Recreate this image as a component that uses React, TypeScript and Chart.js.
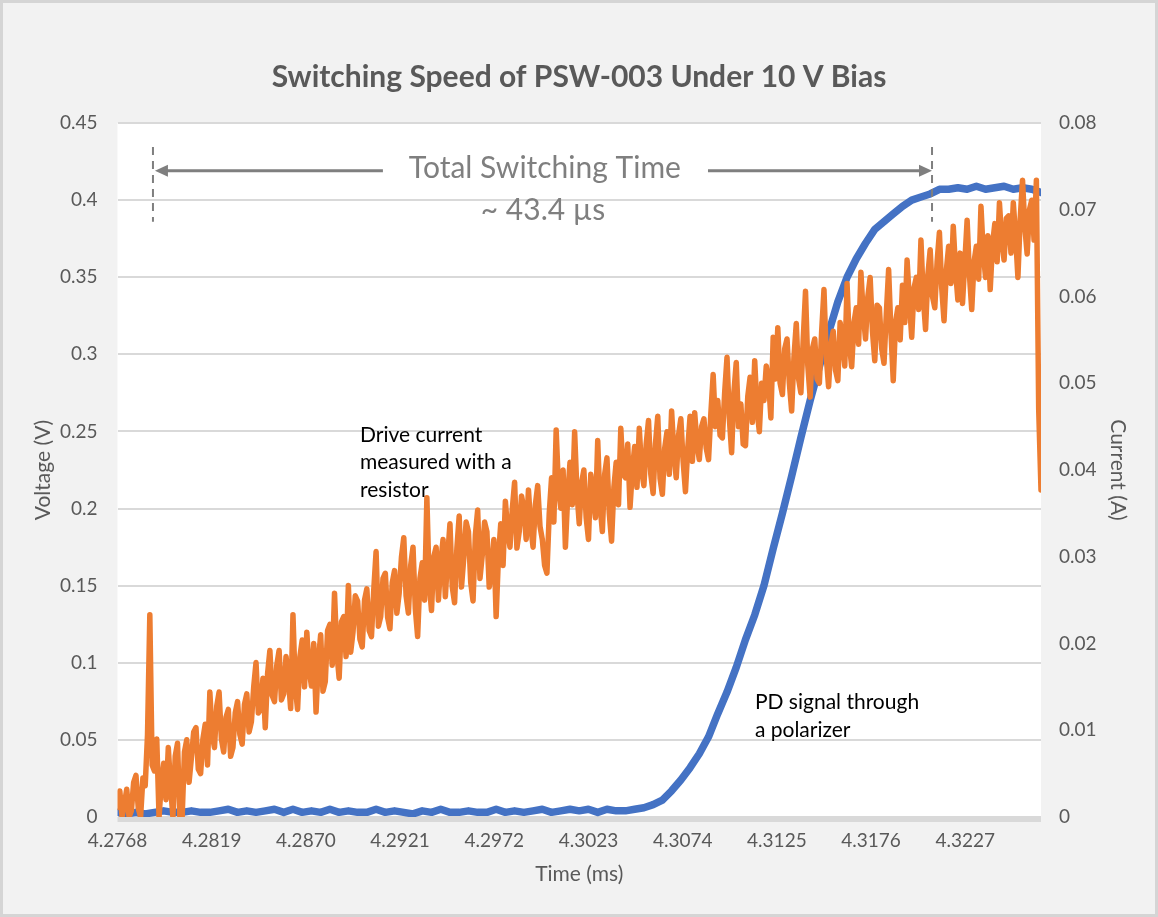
import React, { useEffect, useRef } from "react";
import { Chart, registerables } from "chart.js";

Chart.register(...registerables);

// ---- Data ----
const chartTitle = "Switching Speed of PSW-003 Under 10 V Bias";
const startTimeMs = 4.2768;
const endTimeMs = 4.3268;
const currentStepMs = 0.000125; // sample spacing of the drive-current trace
const voltageStepMs = 0.0005; // sample spacing of the PD-signal trace
const xTickLabels = [4.2768, 4.2819, 4.287, 4.2921, 4.2972, 4.3023, 4.3074, 4.3125, 4.3176, 4.3227];

// PD signal through a polarizer (V, left axis)
const pdSignalV = [
  0.003, 0.002, 0.003, 0.002, 0.003, 0.004, 0.003, 0.003, 0.004, 0.003,
  0.003, 0.004, 0.005, 0.003, 0.004, 0.003, 0.004, 0.005, 0.003, 0.005,
  0.003, 0.004, 0.003, 0.005, 0.003, 0.004, 0.003, 0.003, 0.005, 0.003,
  0.004, 0.003, 0.002, 0.004, 0.003, 0.005, 0.003, 0.003, 0.004, 0.003,
  0.003, 0.005, 0.003, 0.004, 0.003, 0.004, 0.005, 0.003, 0.004, 0.005,
  0.004, 0.005, 0.003, 0.005, 0.004,
  0.004, 0.005, 0.006, 0.008, 0.011, 0.017, 0.024, 0.032, 0.041, 0.052,
  0.067, 0.081, 0.097, 0.115, 0.131, 0.150, 0.174, 0.197, 0.221, 0.246,
  0.270, 0.292, 0.314, 0.334, 0.350, 0.362, 0.372, 0.381, 0.386, 0.391,
  0.396, 0.400, 0.402, 0.404, 0.407, 0.407, 0.408, 0.407, 0.409, 0.407,
  0.408, 0.409, 0.407, 0.408, 0.407, 0.405,
];

// Drive current measured with a resistor (A, right axis)
const driveCurrentA = [
  0.0011, 0.0030, 0.0000, 0.0015, 0.0032, 0.0000, 0.0007, 0.0040, 0.0048, 0.0010, 0.0000, 0.0045, 0.0036, 0.0095, 0.0233, 0.0060, 0.0053, 0.0090, 0.0000, 0.0040,
  0.0062, 0.0020, 0.0080, 0.0035, 0.0000, 0.0070, 0.0085, 0.0000, 0.0000, 0.0075, 0.0089, 0.0040, 0.0068, 0.0098, 0.0103, 0.0055, 0.0050, 0.0090, 0.0107, 0.0060,
  0.0144, 0.0095, 0.0080, 0.0128, 0.0144, 0.0090, 0.0075, 0.0115, 0.0124, 0.0070, 0.0080, 0.0120, 0.0133, 0.0095, 0.0084, 0.0130, 0.0142, 0.0098, 0.0110, 0.0150,
  0.0178, 0.0120, 0.0124, 0.0160, 0.0103, 0.0165, 0.0192, 0.0140, 0.0133, 0.0175, 0.0192, 0.0135, 0.0142, 0.0185, 0.0160, 0.0125, 0.0233, 0.0150, 0.0124, 0.0185,
  0.0204, 0.0150, 0.0213, 0.0170, 0.0151, 0.0200, 0.0121, 0.0180, 0.0210, 0.0145, 0.0156, 0.0215, 0.0222, 0.0175, 0.0258, 0.0190, 0.0160, 0.0225, 0.0231, 0.0185,
  0.0267, 0.0190, 0.0213, 0.0255, 0.0249, 0.0205, 0.0196, 0.0250, 0.0263, 0.0215, 0.0208, 0.0262, 0.0306, 0.0220, 0.0231, 0.0275, 0.0281, 0.0230, 0.0217, 0.0270,
  0.0284, 0.0235, 0.0258, 0.0300, 0.0322, 0.0255, 0.0235, 0.0290, 0.0311, 0.0240, 0.0208, 0.0275, 0.0293, 0.0250, 0.0368, 0.0270, 0.0238, 0.0300, 0.0311, 0.0250,
  0.0293, 0.0320, 0.0254, 0.0300, 0.0338, 0.0265, 0.0247, 0.0310, 0.0347, 0.0265, 0.0299, 0.0340, 0.0329, 0.0270, 0.0249, 0.0325, 0.0354, 0.0275, 0.0302, 0.0340,
  0.0329, 0.0265, 0.0284, 0.0320, 0.0231, 0.0300, 0.0338, 0.0290, 0.0364, 0.0330, 0.0311, 0.0355, 0.0386, 0.0310, 0.0329, 0.0370, 0.0356, 0.0320, 0.0377, 0.0335,
  0.0311, 0.0360, 0.0382, 0.0335, 0.0320, 0.0290, 0.0281, 0.0350, 0.0391, 0.0340, 0.0446, 0.0380, 0.0356, 0.0400, 0.0311, 0.0370, 0.0409, 0.0360, 0.0444, 0.0375,
  0.0338, 0.0385, 0.0400, 0.0345, 0.0320, 0.0395, 0.0373, 0.0345, 0.0434, 0.0360, 0.0329, 0.0395, 0.0414, 0.0350, 0.0318, 0.0380, 0.0409, 0.0360, 0.0448, 0.0395,
  0.0391, 0.0430, 0.0357, 0.0400, 0.0427, 0.0380, 0.0448, 0.0400, 0.0382, 0.0430, 0.0457, 0.0395, 0.0373, 0.0430, 0.0462, 0.0390, 0.0372, 0.0425, 0.0444, 0.0395,
  0.0468, 0.0420, 0.0391, 0.0440, 0.0459, 0.0410, 0.0375, 0.0425, 0.0462, 0.0410, 0.0466, 0.0430, 0.0412, 0.0450, 0.0459, 0.0425, 0.0412, 0.0465, 0.0510, 0.0450,
  0.0480, 0.0440, 0.0437, 0.0490, 0.0530, 0.0460, 0.0420, 0.0490, 0.0524, 0.0450, 0.0476, 0.0430, 0.0428, 0.0485, 0.0507, 0.0455, 0.0526, 0.0470, 0.0444, 0.0500,
  0.0480, 0.0520, 0.0503, 0.0460, 0.0553, 0.0505, 0.0564, 0.0500, 0.0487, 0.0540, 0.0551, 0.0500, 0.0468, 0.0530, 0.0569, 0.0505, 0.0489, 0.0550, 0.0606, 0.0520,
  0.0484, 0.0540, 0.0551, 0.0505, 0.0500, 0.0560, 0.0608, 0.0530, 0.0496, 0.0545, 0.0560, 0.0515, 0.0503, 0.0570, 0.0551, 0.0520, 0.0615, 0.0545, 0.0519, 0.0570,
  0.0587, 0.0545, 0.0628, 0.0580, 0.0551, 0.0600, 0.0622, 0.0560, 0.0526, 0.0590, 0.0587, 0.0540, 0.0523, 0.0580, 0.0631, 0.0560, 0.0503, 0.0570, 0.0587, 0.0550,
  0.0613, 0.0570, 0.0642, 0.0595, 0.0553, 0.0610, 0.0622, 0.0585, 0.0665, 0.0600, 0.0562, 0.0625, 0.0654, 0.0600, 0.0587, 0.0640, 0.0674, 0.0610, 0.0572, 0.0630,
  0.0658, 0.0615, 0.0681, 0.0630, 0.0596, 0.0650, 0.0592, 0.0640, 0.0688, 0.0625, 0.0585, 0.0640, 0.0658, 0.0620, 0.0704, 0.0650, 0.0622, 0.0670, 0.0608, 0.0660,
  0.0684, 0.0640, 0.0708, 0.0665, 0.0642, 0.0690, 0.0693, 0.0650, 0.0708, 0.0670, 0.0622, 0.0690, 0.0734, 0.0680, 0.0649, 0.0700, 0.0711, 0.0665, 0.0734, 0.0470,
  0.0377,
];

// Annotation content
const spanLabel = "Total Switching Time";
const spanValueLabel = "~ 43.4 µs";
const spanStartMs = 4.27872;
const spanEndMs = 4.3209;
const currentNote = ["Drive current", "measured with a", "resistor"];
const pdNote = ["PD signal through", "a polarizer"];

const GREY_TEXT = "#595959";
const FONT = "Lato, 'Open Sans', sans-serif";

const framePlugin = {
  id: "frame",
  beforeDraw(chart: any) {
    const { ctx, width, height, chartArea: a } = chart;
    ctx.save();
    ctx.fillStyle = "#f2f2f2";
    ctx.fillRect(0, 0, width, height);
    ctx.strokeStyle = "#d5d5d5";
    ctx.lineWidth = 3;
    ctx.strokeRect(1.5, 1.5, width - 3, height - 3);
    ctx.fillStyle = "#ffffff";
    ctx.fillRect(a.left, a.top, a.right - a.left, a.bottom - a.top);
    ctx.restore();
  },
  afterDatasetsDraw(chart: any) {
    const { ctx, chartArea: a } = chart;
    ctx.save();
    ctx.fillStyle = "#d9d9d9";
    ctx.fillRect(a.left, a.bottom, a.right - a.left, 5);
    ctx.restore();
  },
};

const notesPlugin = {
  id: "notes",
  afterDraw(chart: any) {
    const { ctx } = chart;
    const xs = chart.scales.x;
    const ys = chart.scales.y;
    const X = (t: number) => xs.getPixelForValue(t);
    const Y = (v: number) => ys.getPixelForValue(v);
    ctx.save();
    const grey = "#7f7f7f";
    // dashed markers
    ctx.strokeStyle = grey;
    ctx.lineWidth = 2;
    ctx.setLineDash([8, 6]);
    for (const t of [spanStartMs, spanEndMs]) {
      ctx.beginPath();
      ctx.moveTo(X(t), Y(0.4345));
      ctx.lineTo(X(t), Y(0.3859));
      ctx.stroke();
    }
    ctx.setLineDash([]);
    // arrows
    const ay = Y(0.419);
    const lTip = X(spanStartMs) + 2;
    const rTip = X(spanEndMs);
    ctx.lineWidth = 3;
    ctx.beginPath();
    ctx.moveTo(lTip + 10, ay);
    ctx.lineTo(X(4.29117), ay);
    ctx.moveTo(X(4.30877), ay);
    ctx.lineTo(rTip - 10, ay);
    ctx.stroke();
    ctx.fillStyle = grey;
    ctx.beginPath();
    ctx.moveTo(lTip, ay);
    ctx.lineTo(lTip + 13, ay - 6);
    ctx.lineTo(lTip + 13, ay + 6);
    ctx.closePath();
    ctx.fill();
    ctx.beginPath();
    ctx.moveTo(rTip, ay);
    ctx.lineTo(rTip - 13, ay - 6);
    ctx.lineTo(rTip - 13, ay + 6);
    ctx.closePath();
    ctx.fill();
    // span labels
    ctx.font = `30px ${FONT}`;
    ctx.textAlign = "center";
    ctx.textBaseline = "alphabetic";
    ctx.fillText(spanLabel, X(4.29994), Y(0.4144));
    ctx.fillText(spanValueLabel, X(4.29984), Y(0.3872));
    // notes
    ctx.fillStyle = "#000000";
    ctx.font = `21px ${FONT}`;
    ctx.textAlign = "left";
    const y0 = Y(0.2432);
    currentNote.forEach((s, i) => ctx.fillText(s, X(4.28993), y0 + i * 27.5));
    const y1 = Y(0.07);
    pdNote.forEach((s, i) => ctx.fillText(s, X(4.31131), y1 + i * 27.5));
    ctx.restore();
  },
};

export default function App() {
  const ref = useRef<HTMLCanvasElement | null>(null);

  useEffect(() => {
    if (!ref.current) return;
    const currentPoints = driveCurrentA.map((v, i) => ({ x: startTimeMs + i * currentStepMs, y: v }));
    const voltagePoints = pdSignalV.map((v, i) => ({ x: startTimeMs + i * voltageStepMs, y: v }));
    const tickFont = { family: FONT, size: 19 };
    const axisTitleFont = { family: FONT, size: 21 };
    const chart = new Chart(ref.current, {
      type: "line",
      data: {
        datasets: [
          {
            label: "Drive current measured with a resistor",
            data: currentPoints,
            yAxisID: "y1",
            borderColor: "#ED7D31",
            backgroundColor: "#ED7D31",
            borderWidth: 5.5,
            pointRadius: 0,
            tension: 0,
            borderJoinStyle: "round",
            borderCapStyle: "round",
            order: 0,
          },
          {
            label: "PD signal through a polarizer",
            data: voltagePoints,
            yAxisID: "y",
            borderColor: "#4472C4",
            backgroundColor: "#4472C4",
            borderWidth: 7.5,
            pointRadius: 0,
            tension: 0,
            borderJoinStyle: "round",
            borderCapStyle: "round",
            order: 1,
          },
        ],
      },
      options: {
        responsive: false,
        animation: false,
        layout: { padding: 0 },
        plugins: {
          legend: { display: false },
          tooltip: { enabled: false },
          title: {
            display: true,
            text: chartTitle,
            color: GREY_TEXT,
            font: { family: FONT, size: 30, weight: "bold" },
            padding: { top: 59, bottom: 28 },
          },
        },
        scales: {
          x: {
            type: "linear",
            min: startTimeMs,
            max: endTimeMs,
            afterBuildTicks: (s: any) => {
              s.ticks = xTickLabels.map((v) => ({ value: v }));
            },
            afterFit: (s: any) => {
              s.height = 100;
            },
            ticks: {
              autoSkip: false,
              maxRotation: 0,
              color: GREY_TEXT,
              font: tickFont,
              padding: 12,
              callback: (v: any) => Number(v).toFixed(4),
            },
            grid: { display: false, drawTicks: false },
            border: { display: false },
            title: {
              display: true,
              text: "Time (ms)",
              color: GREY_TEXT,
              font: axisTitleFont,
              padding: { top: 0, bottom: 30 },
            },
          },
          y: {
            position: "left",
            min: 0,
            max: 0.45,
            afterFit: (s: any) => {
              s.width = 117.5;
            },
            ticks: {
              stepSize: 0.05,
              color: GREY_TEXT,
              font: tickFont,
              padding: 20,
              callback: (v: any) => String(Number(Number(v).toFixed(2))),
            },
            grid: { color: "#d9d9d9", lineWidth: 2, drawTicks: false },
            border: { display: false },
            title: {
              display: true,
              text: "Voltage (V)",
              color: GREY_TEXT,
              font: axisTitleFont,
              padding: { top: 31, bottom: 0 },
            },
          },
          y1: {
            position: "right",
            min: 0,
            max: 0.08,
            afterFit: (s: any) => {
              s.width = 117;
            },
            ticks: {
              stepSize: 0.01,
              color: GREY_TEXT,
              font: tickFont,
              padding: 18,
              callback: (v: any) => String(Number(Number(v).toFixed(2))),
            },
            grid: { display: false, drawTicks: false },
            border: { display: false },
            title: {
              display: true,
              text: "Current (A)",
              color: GREY_TEXT,
              font: axisTitleFont,
              padding: { top: 28, bottom: 0 },
            },
          },
        },
      } as any,
      plugins: [framePlugin, notesPlugin],
    });
    return () => chart.destroy();
  }, []);

  return (
    <div style={{ position: "fixed", left: 0, top: 0, width: 1158, height: 917 }}>
      <canvas ref={ref} width={1158} height={917} style={{ display: "block" }} />
    </div>
  );
}
